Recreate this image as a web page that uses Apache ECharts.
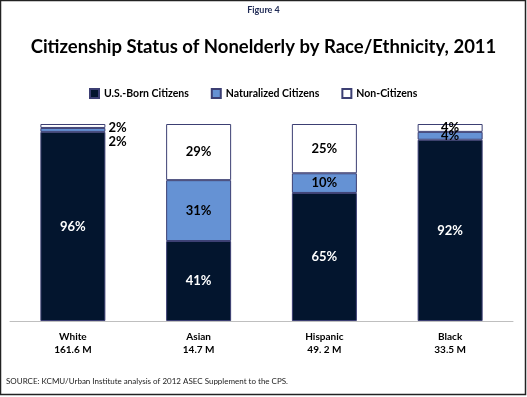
<!DOCTYPE html>
<html>
<head>
<meta charset="utf-8">
<script src="https://cdn.jsdelivr.net/npm/echarts@6/dist/echarts.min.js"></script>
<style>
  html, body { margin: 0; padding: 0; background: #fff; }
  #main { width: 527px; height: 397px; }
</style>
</head>
<body>
<div id="main"></div>
<script>
// data
const categories = ['White', 'Asian', 'Hispanic', 'Black'];
const population = ['161.6 M', '14.7 M', '49. 2 M', '33.5 M'];
const usBorn = [96, 40.6, 65, 92];
const naturalized = [2, 30.9, 10, 4];
const nonCitizens = [2, 28.5, 25, 4];

const font = 'Lato, "Open Sans", sans-serif';
const navy = '#03152e';
const blue = '#6592d4';
const edge = '#3c3f73';

const chart = echarts.init(document.getElementById('main'));

function pct(p) { return Math.round(p.value) + '%'; }

// White bar: small segments labelled to the right of the bar
function withSideLabel(values, dy) {
  return values.map((v, i) => i === 0
    ? { value: v, label: { position: 'right', distance: 3, offset: [0, dy], color: '#000', fontSize: 13 } }
    : v);
}

const option = {
  animation: false,
  textStyle: { fontFamily: font },
  title: {
    text: 'Citizenship Status of Nonelderly by Race/Ethnicity, 2011',
    left: 'center',
    top: 33,
    textStyle: { fontFamily: font, fontSize: 18.5, fontWeight: 'bold', color: '#000' }
  },
  legend: {
    left: 84,
    top: 83,
    itemWidth: 9,
    itemHeight: 9,
    itemGap: 22,
    icon: 'rect',
    textStyle: { fontFamily: font, fontSize: 10.5, fontWeight: 'bold', color: '#000' },
    data: ['U.S.-Born Citizens', 'Naturalized Citizens', 'Non-Citizens']
  },
  grid: { left: 10, right: 14, top: 124, bottom: 76 },
  xAxis: {
    type: 'category',
    data: categories,
    axisLine: { lineStyle: { color: '#bfbfbf' } },
    axisTick: { show: false },
    axisLabel: {
      margin: 9,
      fontFamily: font,
      fontSize: 10,
      fontWeight: 'bold',
      color: '#000',
      lineHeight: 13,
      formatter: (v, i) => v + '\n' + population[i]
    }
  },
  yAxis: { type: 'value', min: 0, max: 100, show: false, splitLine: { show: false } },
  series: [
    {
      name: 'U.S.-Born Citizens',
      type: 'bar',
      stack: 'all',
      barWidth: 65,
      data: usBorn,
      itemStyle: { color: navy, borderColor: edge, borderWidth: 1 },
      label: { show: true, formatter: pct, color: '#fff', fontSize: 13, fontWeight: 'bold', fontFamily: font }
    },
    {
      name: 'Naturalized Citizens',
      type: 'bar',
      stack: 'all',
      data: withSideLabel(naturalized, 12),
      itemStyle: { color: blue, borderColor: edge, borderWidth: 1 },
      label: { show: true, formatter: pct, color: '#000', fontSize: 13, fontWeight: 'bold', fontFamily: font }
    },
    {
      name: 'Non-Citizens',
      type: 'bar',
      stack: 'all',
      data: withSideLabel(nonCitizens, 2),
      itemStyle: { color: '#fff', borderColor: edge, borderWidth: 1 },
      label: { show: true, formatter: pct, color: '#000', fontSize: 13, fontWeight: 'bold', fontFamily: font }
    }
  ],
  graphic: [
    {
      type: 'rect',
      shape: { x: 0.5, y: 0.5, width: 525, height: 394 },
      style: { fill: 'none', stroke: '#222', lineWidth: 1.5 },
      z: 100
    },
    {
      type: 'text',
      left: 'center',
      top: 6,
      style: { text: 'Figure 4', fontFamily: font, fontSize: 9, fontWeight: 'bold', fill: '#1f2a55' }
    },
    {
      type: 'text',
      left: 6,
      top: 377,
      style: { text: 'SOURCE: KCMU/Urban Institute analysis of 2012 ASEC Supplement to the CPS.', fontFamily: font, fontSize: 8, fill: '#222' }
    }
  ]
};

chart.setOption(option);
</script>
</body>
</html>
